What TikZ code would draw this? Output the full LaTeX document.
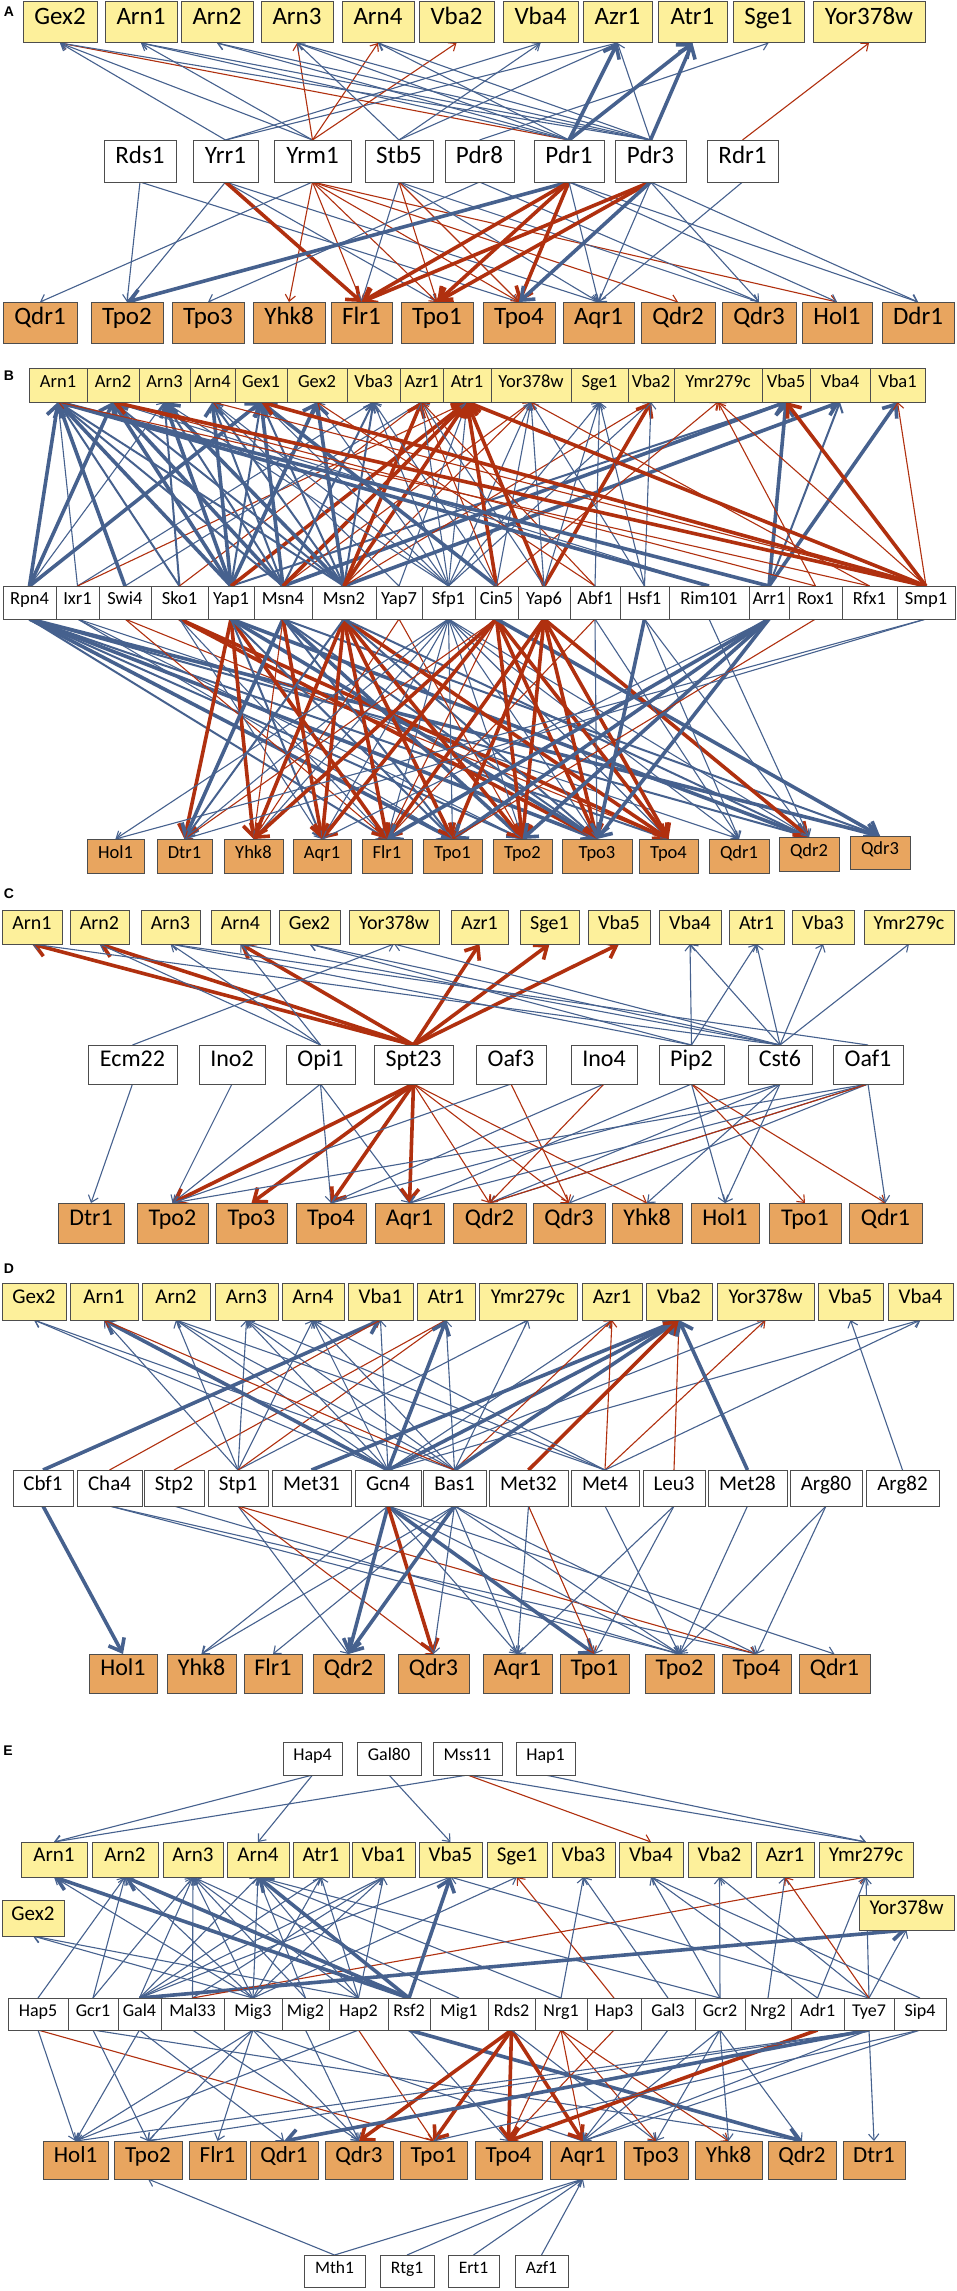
\documentclass[tikz,border=0pt]{standalone}
\usepackage{fontspec}
\setmainfont{Carlito}
\newfontfamily\lblfont{Liberation Sans}
\usetikzlibrary{arrows.meta}
\definecolor{eb}{HTML}{46618E}
\definecolor{er}{HTML}{B0300F}
\definecolor{yl}{HTML}{FDF09B}
\definecolor{og}{HTML}{E8A55F}
\definecolor{bord}{HTML}{4D4D4D}
\pgfdeclarelayer{back}
\pgfdeclarelayer{bg}
\pgfsetlayers{back,bg,main}
\tikzset{
 box/.style={draw=bord, line width=1pt, inner sep=0pt, outer sep=0pt, text height=0.66em, text depth=0.17em},
 yb/.style={box, fill=yl}, ob/.style={box, fill=og}, wb/.style={box, fill=white},
 fs/.style={font=\fontsize{#1}{#1}\selectfont},
 edg/.style={-{Straight Barb[length=4pt 2,width=7pt 3]}},
 bt/.style={edg, draw=eb, line width=1.1pt},
 bm/.style={edg, draw=eb, line width=2pt},
 bk/.style={edg, draw=eb, line width=3.6pt},
 rt/.style={edg, draw=er, line width=1.1pt},
 rm/.style={edg, draw=er, line width=2pt},
 rk/.style={edg, draw=er, line width=3.6pt},
 plbl/.style={font=\lblfont\bfseries\fontsize{14}{14}\selectfont, inner sep=0pt}
}
\newcommand{\bx}[7]{\node[#7, minimum width={(#3-#2)*1pt}, minimum height={(#5-#4)*1pt}] (#1) at ({(#2+#3)/2},{(#4+#5)/2}) {#6};}
\newcommand{\EdUp}[3]{\begin{pgfonlayer}{bg}\foreach \tg in {#3}{\draw[#1] (#2.north) -- (\tg.south);}\end{pgfonlayer}}
\newcommand{\EdDn}[3]{\begin{pgfonlayer}{bg}\foreach \tg in {#3}{\draw[#1] (#2.south) -- (\tg.north);}\end{pgfonlayer}}
\begin{document}
\begin{tikzpicture}[x=1pt,y=-1pt]
\useasboundingbox (0,0) rectangle (956,2291);
\begin{pgfonlayer}{back}\fill[white] (0,0) rectangle (956,2291);\end{pgfonlayer}
% ================= A =================
\node[plbl] (labA) at (9,12) {A};
\bx{aGex2}{23}{97}{2}{43}{Gex2}{yb,fs=25}
\bx{aArn1}{105}{177}{2}{43}{Arn1}{yb,fs=25}
\bx{aArn2}{181}{253}{2}{43}{Arn2}{yb,fs=25}
\bx{aArn3}{261}{333}{2}{43}{Arn3}{yb,fs=25}
\bx{aArn4}{342}{414}{2}{43}{Arn4}{yb,fs=25}
\bx{aVba2}{419}{494}{2}{43}{Vba2}{yb,fs=25}
\bx{aVba4}{503}{578}{2}{43}{Vba4}{yb,fs=25}
\bx{aAzr1}{583}{652}{2}{43}{Azr1}{yb,fs=25}
\bx{aAtr1}{658}{727}{2}{43}{Atr1}{yb,fs=25}
\bx{aSge1}{733}{804}{2}{43}{Sge1}{yb,fs=25}
\bx{aYor}{813}{925}{2}{43}{Yor378w}{yb,fs=25}
\bx{aRds1}{104}{176}{140}{182}{Rds1}{wb,fs=25}
\bx{aYrr1}{193}{258}{140}{182}{Yrr1}{wb,fs=25}
\bx{aYrm1}{274}{351}{140}{182}{Yrm1}{wb,fs=25}
\bx{aStb5}{365}{433}{140}{182}{Stb5}{wb,fs=25}
\bx{aPdr8}{445}{514}{140}{182}{Pdr8}{wb,fs=25}
\bx{aPdr1}{534}{604}{140}{182}{Pdr1}{wb,fs=25}
\bx{aPdr3}{615}{686}{140}{182}{Pdr3}{wb,fs=25}
\bx{aRdr1}{707}{778}{140}{182}{Rdr1}{wb,fs=25}
\bx{aQdr1}{3}{77}{302}{343}{Qdr1}{ob,fs=25}
\bx{aTpo2}{91}{163}{302}{343}{Tpo2}{ob,fs=25}
\bx{aTpo3}{172}{244}{302}{343}{Tpo3}{ob,fs=25}
\bx{aYhk8}{253}{325}{302}{343}{Yhk8}{ob,fs=25}
\bx{aFlr1}{331}{392}{302}{343}{Flr1}{ob,fs=25}
\bx{aTpo1}{401}{473}{302}{343}{Tpo1}{ob,fs=25}
\bx{aTpo4}{483}{555}{302}{343}{Tpo4}{ob,fs=25}
\bx{aAqr1}{563}{634}{302}{343}{Aqr1}{ob,fs=25}
\bx{aQdr2}{641}{715}{302}{343}{Qdr2}{ob,fs=25}
\bx{aQdr3}{722}{796}{302}{343}{Qdr3}{ob,fs=25}
\bx{aHol1}{802}{872}{302}{343}{Hol1}{ob,fs=25}
\bx{aDdr1}{882}{954}{302}{343}{Ddr1}{ob,fs=25}
\EdUp{rt}{aPdr1}{aGex2}
\EdUp{bt}{aYrr1}{aGex2,aVba4,aAzr1}
\EdUp{bt}{aYrm1}{aGex2,aArn1}
\EdUp{rt}{aYrm1}{aArn3,aArn4,aVba2}
\EdUp{bt}{aStb5}{aArn3,aAzr1,aVba4}
\EdUp{bt}{aPdr8}{aSge1}
\EdUp{bt}{aPdr1}{aArn1,aArn2,aArn3,aArn4}
\EdUp{bk}{aPdr1}{aAzr1,aAtr1}
\EdUp{bt}{aPdr3}{aGex2,aArn1,aArn2,aArn3,aArn4,aAzr1}
\EdUp{bk}{aPdr3}{aAtr1}
\EdUp{rt}{aRdr1}{aYor}
\EdDn{bt}{aRds1}{aTpo2,aTpo4}
\EdDn{bt}{aYrr1}{aTpo2,aTpo1,aAqr1}
\EdDn{rk}{aYrr1}{aFlr1}
\EdDn{bt}{aYrm1}{aQdr1}
\EdDn{rt}{aYrm1}{aYhk8,aFlr1,aTpo1,aTpo4,aQdr2,aHol1}
\EdDn{bt}{aStb5}{aFlr1,aAqr1,aQdr3}
\EdDn{rt}{aStb5}{aTpo1,aTpo4}
\EdDn{bt}{aPdr8}{aQdr3,aTpo3}
\EdDn{bk}{aPdr1}{aTpo2}
\EdDn{rk}{aPdr1}{aFlr1,aTpo1,aTpo4}
\EdDn{bt}{aPdr1}{aAqr1,aHol1,aDdr1}
\EdDn{rk}{aPdr3}{aFlr1,aTpo1}
\EdDn{bk}{aPdr3}{aTpo4}
\EdDn{bt}{aPdr3}{aAqr1,aQdr3,aDdr1}
\EdDn{bt}{aRdr1}{aAqr1}
% ================= B =================
\node[plbl] (labB) at (9,376) {B};
\bx{bArn1}{29}{87}{368}{402}{Arn1}{yb,fs=18.5}
\bx{bArn2}{87}{139}{368}{402}{Arn2}{yb,fs=18.5}
\bx{bArn3}{139}{190}{368}{402}{Arn3}{yb,fs=18.5}
\bx{bArn4}{190}{235}{368}{402}{Arn4}{yb,fs=18.5}
\bx{bGex1}{235}{287}{368}{402}{Gex1}{yb,fs=18.5}
\bx{bGex2}{287}{347}{368}{402}{Gex2}{yb,fs=18.5}
\bx{bVba3}{347}{400}{368}{402}{Vba3}{yb,fs=18.5}
\bx{bAzr1}{400}{443}{368}{402}{Azr1}{yb,fs=18.5}
\bx{bAtr1}{443}{491}{368}{402}{Atr1}{yb,fs=18.5}
\bx{bYor}{491}{571}{368}{402}{Yor378w}{yb,fs=18.5}
\bx{bSge1}{571}{628}{368}{402}{Sge1}{yb,fs=18.5}
\bx{bVba2}{628}{674}{368}{402}{Vba2}{yb,fs=18.5}
\bx{bYmr}{674}{762}{368}{402}{Ymr279c}{yb,fs=18.5}
\bx{bVba5}{762}{810}{368}{402}{Vba5}{yb,fs=18.5}
\bx{bVba4}{810}{870}{368}{402}{Vba4}{yb,fs=18.5}
\bx{bVba1}{870}{925}{368}{402}{Vba1}{yb,fs=18.5}
\bx{bRpn4}{3}{56}{586}{619}{Rpn4}{wb,fs=18.5}
\bx{bIxr1}{56}{99}{586}{619}{Ixr1}{wb,fs=18.5}
\bx{bSwi4}{99}{151}{586}{619}{Swi4}{wb,fs=18.5}
\bx{bSko1}{151}{208}{586}{619}{Sko1}{wb,fs=18.5}
\bx{bYap1}{208}{254}{586}{619}{Yap1}{wb,fs=18.5}
\bx{bMsn4}{254}{312}{586}{619}{Msn4}{wb,fs=18.5}
\bx{bMsn2}{312}{376}{586}{619}{Msn2}{wb,fs=18.5}
\bx{bYap7}{376}{422}{586}{619}{Yap7}{wb,fs=18.5}
\bx{bSfp1}{422}{475}{586}{619}{Sfp1}{wb,fs=18.5}
\bx{bCin5}{475}{518}{586}{619}{Cin5}{wb,fs=18.5}
\bx{bYap6}{518}{570}{586}{619}{Yap6}{wb,fs=18.5}
\bx{bAbf1}{570}{620}{586}{619}{Abf1}{wb,fs=18.5}
\bx{bHsf1}{620}{669}{586}{619}{Hsf1}{wb,fs=18.5}
\bx{bRim}{669}{749}{586}{619}{Rim101}{wb,fs=18.5}
\bx{bArr1}{749}{789}{586}{619}{Arr1}{wb,fs=18.5}
\bx{bRox1}{789}{842}{586}{619}{Rox1}{wb,fs=18.5}
\bx{bRfx1}{842}{897}{586}{619}{Rfx1}{wb,fs=18.5}
\bx{bSmp1}{897}{955}{586}{619}{Smp1}{wb,fs=18.5}
\bx{bHol1}{87}{144}{839}{873}{Hol1}{ob,fs=18.5}
\bx{bDtr1}{157}{212}{839}{873}{Dtr1}{ob,fs=18.5}
\bx{bYhk8}{224}{283}{839}{873}{Yhk8}{ob,fs=18.5}
\bx{bAqr1}{293}{351}{839}{873}{Aqr1}{ob,fs=18.5}
\bx{bFlr1}{362}{412}{839}{873}{Flr1}{ob,fs=18.5}
\bx{bTpo1}{423}{482}{839}{873}{Tpo1}{ob,fs=18.5}
\bx{bTpo2}{493}{552}{839}{873}{Tpo2}{ob,fs=18.5}
\bx{bTpo3}{562}{632}{839}{873}{Tpo3}{ob,fs=18.5}
\bx{bTpo4}{639}{698}{839}{873}{Tpo4}{ob,fs=18.5}
\bx{bQdr1}{709}{769}{839}{873}{Qdr1}{ob,fs=18.5}
\bx{bQdr2}{779}{839}{837}{871}{Qdr2}{ob,fs=18.5}
\bx{bQdr3}{850}{910}{836}{869}{Qdr3}{ob,fs=18.5}
\EdUp{bk}{bRpn4}{bArn1,bArn2,bGex1}
\EdUp{bt}{bRpn4}{bArn3}
\EdUp{bt}{bIxr1}{bArn1,bVba3}
\EdUp{rt}{bIxr1}{bAtr1}
\EdUp{bk}{bSwi4}{bArn1}
\EdUp{bt}{bSwi4}{bAzr1}
\EdUp{bm}{bSko1}{bArn1,bArn3}
\EdUp{rt}{bSko1}{bAzr1}
\EdUp{bk}{bYap1}{bArn1,bArn2,bArn3,bArn4,bGex2}
\EdUp{bm}{bYap1}{bGex1,bVba5}
\EdUp{rk}{bYap1}{bAtr1}
\EdUp{bk}{bMsn4}{bArn2,bGex1,bVba5}
\EdUp{bm}{bMsn4}{bArn1,bArn3,bArn4,bVba3}
\EdUp{rk}{bMsn4}{bAtr1}
\EdUp{rt}{bMsn4}{bYor}
\EdUp{bk}{bMsn2}{bArn3,bGex2,bVba4}
\EdUp{bm}{bMsn2}{bArn1,bArn2,bArn4,bGex1,bVba3}
\EdUp{rk}{bMsn2}{bAzr1,bAtr1}
\EdUp{rt}{bMsn2}{bYor,bVba2}
\EdUp{bt}{bYap7}{bArn4,bAtr1}
\EdUp{bt}{bSfp1}{bArn3,bArn4,bGex1,bGex2,bVba3,bAzr1,bAtr1,bYor,bSge1,bVba2}
\EdUp{bk}{bCin5}{bGex1}
\EdUp{rk}{bCin5}{bAtr1}
\EdUp{rt}{bCin5}{bAzr1,bYmr}
\EdUp{bt}{bCin5}{bVba3,bYor}
\EdUp{rk}{bYap6}{bAtr1,bVba2}
\EdUp{bt}{bYap6}{bAzr1,bYor,bSge1}
\EdUp{rt}{bAbf1}{bAzr1,bGex2}
\EdUp{bt}{bAbf1}{bSge1}
\EdUp{bt}{bHsf1}{bYor,bSge1,bVba2}
\EdUp{bk}{bRim}{bArn1}
\EdUp{bt}{bRim}{bArn2}
\EdUp{bk}{bArr1}{bArn1,bVba5,bVba1}
\EdUp{bm}{bArr1}{bVba4}
\EdUp{rt}{bRox1}{bArn2,bYmr}
\EdUp{rt}{bRfx1}{bArn1,bYor}
\EdUp{rk}{bSmp1}{bArn2,bGex1,bAtr1,bVba5}
\EdUp{rt}{bSmp1}{bArn4,bVba1,bYmr}
\EdDn{bk}{bRpn4}{bTpo1,bTpo3,bQdr3}
\EdDn{bm}{bRpn4}{bFlr1,bTpo2,bTpo4,bQdr2}
\EdDn{bt}{bIxr1}{bTpo1,bTpo2,bQdr1}
\EdDn{rt}{bSwi4}{bFlr1,bTpo4}
\EdDn{rk}{bSko1}{bTpo3,bTpo4}
\EdDn{bt}{bSko1}{bAqr1,bFlr1}
\EdDn{rk}{bYap1}{bDtr1,bYhk8,bFlr1}
\EdDn{bk}{bYap1}{bTpo3,bQdr2}
\EdDn{bm}{bYap1}{bAqr1,bTpo1}
\EdDn{bk}{bMsn4}{bDtr1,bTpo2}
\EdDn{rk}{bMsn4}{bAqr1}
\EdDn{rt}{bMsn4}{bYhk8}
\EdDn{bm}{bMsn4}{bTpo1,bTpo3,bQdr3}
\EdDn{rk}{bMsn2}{bYhk8,bAqr1,bFlr1,bTpo1,bTpo2,bTpo4}
\EdDn{bm}{bMsn2}{bDtr1,bTpo3,bQdr2}
\EdDn{rt}{bYap7}{bYhk8,bTpo2}
\EdDn{bt}{bSfp1}{bHol1,bDtr1,bYhk8,bAqr1,bFlr1,bTpo1,bTpo2,bTpo3,bTpo4,bQdr1,bQdr2}
\EdDn{rk}{bCin5}{bYhk8,bAqr1,bTpo2,bTpo3,bTpo4}
\EdDn{rt}{bCin5}{bDtr1,bFlr1}
\EdDn{bk}{bCin5}{bQdr3}
\EdDn{rk}{bYap6}{bFlr1,bTpo1,bTpo2,bTpo3,bTpo4,bQdr2}
\EdDn{bt}{bAbf1}{bTpo3,bQdr1}
\EdDn{rt}{bAbf1}{bFlr1}
\EdDn{bk}{bHsf1}{bTpo3}
\EdDn{bt}{bHsf1}{bQdr2,bQdr1}
\EdDn{bt}{bRim}{bQdr2}
\EdDn{bk}{bArr1}{bTpo3,bTpo2,bTpo1,bFlr1}
\EdDn{bt}{bArr1}{bAqr1}
\EdDn{rt}{bRox1}{bTpo1}
\EdDn{bt}{bSmp1}{bDtr1,bHol1}
% ================= C =================
\node[plbl] (labC) at (9,894) {C};
\bx{cArn1}{2}{62}{910}{944}{Arn1}{yb,fs=20}
\bx{cArn2}{70}{129}{910}{944}{Arn2}{yb,fs=20}
\bx{cArn3}{141}{200}{910}{944}{Arn3}{yb,fs=20}
\bx{cArn4}{211}{270}{910}{944}{Arn4}{yb,fs=20}
\bx{cGex2}{279}{340}{910}{944}{Gex2}{yb,fs=20}
\bx{cYor}{349}{439}{910}{944}{Yor378w}{yb,fs=20}
\bx{cAzr1}{451}{508}{910}{944}{Azr1}{yb,fs=20}
\bx{cSge1}{520}{579}{910}{944}{Sge1}{yb,fs=20}
\bx{cVba5}{588}{650}{910}{944}{Vba5}{yb,fs=20}
\bx{cVba4}{659}{721}{910}{944}{Vba4}{yb,fs=20}
\bx{cAtr1}{729}{784}{910}{944}{Atr1}{yb,fs=20}
\bx{cVba3}{792}{854}{910}{944}{Vba3}{yb,fs=20}
\bx{cYmr}{864}{954}{910}{944}{Ymr279c}{yb,fs=20}
\bx{cEcm}{88}{177}{1045}{1084}{Ecm22}{wb,fs=24}
\bx{cIno2}{199}{265}{1045}{1084}{Ino2}{wb,fs=24}
\bx{cOpi1}{286}{355}{1045}{1084}{Opi1}{wb,fs=24}
\bx{cSpt}{374}{453}{1045}{1084}{Spt23}{wb,fs=24}
\bx{cOaf3}{476}{546}{1045}{1084}{Oaf3}{wb,fs=24}
\bx{cIno4}{571}{637}{1045}{1084}{Ino4}{wb,fs=24}
\bx{cPip2}{659}{724}{1045}{1084}{Pip2}{wb,fs=24}
\bx{cCst6}{748}{812}{1045}{1084}{Cst6}{wb,fs=24}
\bx{cOaf1}{833}{903}{1045}{1084}{Oaf1}{wb,fs=24}
\bx{cDtr1}{58}{124}{1203}{1243}{Dtr1}{ob,fs=24}
\bx{cTpo2}{137}{208}{1203}{1243}{Tpo2}{ob,fs=24}
\bx{cTpo3}{216}{287}{1203}{1243}{Tpo3}{ob,fs=24}
\bx{cTpo4}{296}{366}{1203}{1243}{Tpo4}{ob,fs=24}
\bx{cAqr1}{375}{444}{1203}{1243}{Aqr1}{ob,fs=24}
\bx{cQdr2}{453}{526}{1203}{1243}{Qdr2}{ob,fs=24}
\bx{cQdr3}{533}{605}{1203}{1243}{Qdr3}{ob,fs=24}
\bx{cYhk8}{612}{682}{1203}{1243}{Yhk8}{ob,fs=24}
\bx{cHol1}{691}{759}{1203}{1243}{Hol1}{ob,fs=24}
\bx{cTpo1}{769}{841}{1203}{1243}{Tpo1}{ob,fs=24}
\bx{cQdr1}{849}{922}{1203}{1243}{Qdr1}{ob,fs=24}
\EdUp{rk}{cSpt}{cArn1,cArn2,cArn4,cAzr1,cSge1,cVba5}
\EdUp{bt}{cOpi1}{cArn2,cArn3,cArn4}
\EdUp{bt}{cEcm}{cYor}
\EdUp{bt}{cPip2}{cVba4,cAtr1,cArn3,cGex2}
\EdUp{bt}{cCst6}{cArn1,cArn4,cGex2,cYor,cVba4,cAtr1,cVba3,cYmr}
\EdUp{bt}{cOaf1}{cArn3}
\EdDn{bt}{cEcm}{cDtr1}
\EdDn{bt}{cIno2}{cTpo2}
\EdDn{bt}{cOpi1}{cTpo2,cTpo4,cAqr1}
\EdDn{rk}{cSpt}{cTpo2,cTpo3,cTpo4,cAqr1}
\EdDn{rt}{cSpt}{cQdr2,cQdr3,cYhk8}
\EdDn{bt}{cOaf3}{cTpo2}
\EdDn{rt}{cOaf3}{cQdr3}
\EdDn{bt}{cIno4}{cTpo4}
\EdDn{rt}{cIno4}{cQdr2}
\EdDn{rt}{cPip2}{cTpo1,cQdr1}
\EdDn{bt}{cPip2}{cHol1,cAqr1}
\EdDn{bt}{cCst6}{cQdr2,cHol1,cYhk8,cTpo4}
\EdDn{bt}{cOaf1}{cQdr1,cQdr2,cTpo2,cAqr1,cQdr3}
\EdDn{rt}{cOaf1}{cQdr2}
% ================= D =================
\node[plbl] (labD) at (9,1269) {D};
\bx{dGex2}{2}{66}{1283}{1320}{Gex2}{yb,fs=21}
\bx{dArn1}{70}{138}{1283}{1320}{Arn1}{yb,fs=21}
\bx{dArn2}{142}{210}{1283}{1320}{Arn2}{yb,fs=21}
\bx{dArn3}{215}{278}{1283}{1320}{Arn3}{yb,fs=21}
\bx{dArn4}{282}{344}{1283}{1320}{Arn4}{yb,fs=21}
\bx{dVba1}{348}{413}{1283}{1320}{Vba1}{yb,fs=21}
\bx{dAtr1}{417}{475}{1283}{1320}{Atr1}{yb,fs=21}
\bx{dYmr}{479}{577}{1283}{1320}{Ymr279c}{yb,fs=21}
\bx{dAzr1}{582}{642}{1283}{1320}{Azr1}{yb,fs=21}
\bx{dVba2}{646}{712}{1283}{1320}{Vba2}{yb,fs=21}
\bx{dYor}{717}{814}{1283}{1320}{Yor378w}{yb,fs=21}
\bx{dVba5}{818}{883}{1283}{1320}{Vba5}{yb,fs=21}
\bx{dVba4}{888}{953}{1283}{1320}{Vba4}{yb,fs=21}
\bx{dCbf1}{13}{73}{1470}{1506}{Cbf1}{wb,fs=21}
\bx{dCha4}{77}{142}{1470}{1506}{Cha4}{wb,fs=21}
\bx{dStp2}{144}{204}{1470}{1506}{Stp2}{wb,fs=21}
\bx{dStp1}{208}{268}{1470}{1506}{Stp1}{wb,fs=21}
\bx{dMet31}{272}{351}{1470}{1506}{Met31}{wb,fs=21}
\bx{dGcn4}{355}{421}{1470}{1506}{Gcn4}{wb,fs=21}
\bx{dBas1}{423}{486}{1470}{1506}{Bas1}{wb,fs=21}
\bx{dMet32}{489}{568}{1470}{1506}{Met32}{wb,fs=21}
\bx{dMet4}{571}{639}{1470}{1506}{Met4}{wb,fs=21}
\bx{dLeu3}{643}{705}{1470}{1506}{Leu3}{wb,fs=21}
\bx{dMet28}{708}{787}{1470}{1506}{Met28}{wb,fs=21}
\bx{dArg80}{790}{862}{1470}{1506}{Arg80}{wb,fs=21}
\bx{dArg82}{866}{939}{1470}{1506}{Arg82}{wb,fs=21}
\bx{dHol1}{89}{157}{1654}{1693}{Hol1}{ob,fs=24}
\bx{dYhk8}{167}{236}{1654}{1693}{Yhk8}{ob,fs=24}
\bx{dFlr1}{244}{302}{1654}{1693}{Flr1}{ob,fs=24}
\bx{dQdr2}{313}{384}{1654}{1693}{Qdr2}{ob,fs=24}
\bx{dQdr3}{398}{469}{1654}{1693}{Qdr3}{ob,fs=24}
\bx{dAqr1}{483}{552}{1654}{1693}{Aqr1}{ob,fs=24}
\bx{dTpo1}{560}{629}{1654}{1693}{Tpo1}{ob,fs=24}
\bx{dTpo2}{645}{714}{1654}{1693}{Tpo2}{ob,fs=24}
\bx{dTpo4}{722}{791}{1654}{1693}{Tpo4}{ob,fs=24}
\bx{dQdr1}{799}{870}{1654}{1693}{Qdr1}{ob,fs=24}
\EdUp{bk}{dCbf1}{dVba1}
\EdUp{rt}{dCha4}{dVba1}
\EdUp{rt}{dStp2}{dAtr1}
\EdUp{bt}{dStp1}{dArn1,dArn2,dArn3,dArn4,dYmr}
\EdUp{rt}{dStp1}{dAtr1}
\EdUp{bk}{dMet31}{dVba2}
\EdUp{bk}{dGcn4}{dArn1,dAtr1,dVba2}
\EdUp{bt}{dGcn4}{dArn2,dArn3,dArn4,dVba1,dGex2,dAzr1,dVba4,dYor}
\EdUp{bt}{dBas1}{dGex2,dArn2,dArn3,dArn4,dAtr1,dYmr}
\EdUp{rt}{dBas1}{dArn1,dAzr1}
\EdUp{bk}{dBas1}{dVba2}
\EdUp{rk}{dMet32}{dVba2}
\EdUp{rt}{dMet4}{dAzr1,dYor}
\EdUp{bt}{dMet4}{dArn2,dArn3,dArn4,dVba4}
\EdUp{rt}{dLeu3}{dVba2}
\EdUp{bk}{dMet28}{dVba2}
\EdUp{bt}{dArg82}{dVba5}
\EdDn{bk}{dCbf1}{dHol1}
\EdDn{bt}{dCha4}{dTpo2,dTpo4}
\EdDn{bt}{dStp2}{dTpo2}
\EdDn{bt}{dStp1}{dQdr2}
\EdDn{rt}{dStp1}{dQdr3,dTpo4}
\EdDn{bt}{dGcn4}{dYhk8,dAqr1,dTpo2,dQdr1}
\EdDn{bk}{dGcn4}{dQdr2,dTpo1}
\EdDn{rk}{dGcn4}{dQdr3}
\EdDn{bk}{dBas1}{dQdr2}
\EdDn{bt}{dBas1}{dFlr1,dYhk8,dQdr3,dAqr1,dTpo2,dTpo4}
\EdDn{rt}{dMet32}{dTpo1}
\EdDn{bt}{dMet32}{dAqr1}
\EdDn{bt}{dMet4}{dTpo2}
\EdDn{bt}{dLeu3}{dTpo1,dAqr1}
\EdDn{bt}{dMet28}{dTpo2}
\EdDn{bt}{dArg80}{dTpo2,dTpo4}
% ================= E =================
\node[plbl] (labE) at (8,1751) {E};
\bx{eHap4}{283}{342}{1742}{1775}{Hap4}{wb,fs=18}
\bx{eGal80}{357}{421}{1742}{1775}{Gal80}{wb,fs=18}
\bx{eMss11}{433}{502}{1742}{1775}{Mss11}{wb,fs=18}
\bx{eHap1}{516}{575}{1742}{1775}{Hap1}{wb,fs=18}
\bx{eArn1}{21}{87}{1842}{1877}{Arn1}{yb,fs=21}
\bx{eArn2}{92}{158}{1842}{1877}{Arn2}{yb,fs=21}
\bx{eArn3}{163}{223}{1842}{1877}{Arn3}{yb,fs=21}
\bx{eArn4}{227}{289}{1842}{1877}{Arn4}{yb,fs=21}
\bx{eAtr1}{293}{349}{1842}{1877}{Atr1}{yb,fs=21}
\bx{eVba1}{352}{415}{1842}{1877}{Vba1}{yb,fs=21}
\bx{eVba5}{419}{482}{1842}{1877}{Vba5}{yb,fs=21}
\bx{eSge1}{487}{547}{1842}{1877}{Sge1}{yb,fs=21}
\bx{eVba3}{552}{615}{1842}{1877}{Vba3}{yb,fs=21}
\bx{eVba4}{619}{683}{1842}{1877}{Vba4}{yb,fs=21}
\bx{eVba2}{688}{751}{1842}{1877}{Vba2}{yb,fs=21}
\bx{eAzr1}{756}{814}{1842}{1877}{Azr1}{yb,fs=21}
\bx{eYmr}{819}{913}{1842}{1877}{Ymr279c}{yb,fs=21}
\bx{eGex2}{2}{64}{1900}{1936}{Gex2}{yb,fs=21}
\bx{eYor}{859}{954}{1895}{1930}{Yor378w}{yb,fs=21}
\bx{eHap5}{8}{68}{1998}{2030}{Hap5}{wb,fs=18}
\bx{eGcr1}{68}{118}{1998}{2030}{Gcr1}{wb,fs=18}
\bx{eGal4}{118}{161}{1998}{2030}{Gal4}{wb,fs=18}
\bx{eMal33}{161}{224}{1998}{2030}{Mal33}{wb,fs=18}
\bx{eMig3}{224}{282}{1998}{2030}{Mig3}{wb,fs=18}
\bx{eMig2}{282}{329}{1998}{2030}{Mig2}{wb,fs=18}
\bx{eHap2}{329}{388}{1998}{2030}{Hap2}{wb,fs=18}
\bx{eRsf2}{388}{430}{1998}{2030}{Rsf2}{wb,fs=18}
\bx{eMig1}{430}{488}{1998}{2030}{Mig1}{wb,fs=18}
\bx{eRds2}{488}{535}{1998}{2030}{Rds2}{wb,fs=18}
\bx{eNrg1}{535}{587}{1998}{2030}{Nrg1}{wb,fs=18}
\bx{eHap3}{587}{641}{1998}{2030}{Hap3}{wb,fs=18}
\bx{eGal3}{641}{695}{1998}{2030}{Gal3}{wb,fs=18}
\bx{eGcr2}{695}{745}{1998}{2030}{Gcr2}{wb,fs=18}
\bx{eNrg2}{745}{791}{1998}{2030}{Nrg2}{wb,fs=18}
\bx{eAdr1}{791}{844}{1998}{2030}{Adr1}{wb,fs=18}
\bx{eTye7}{844}{894}{1998}{2030}{Tye7}{wb,fs=18}
\bx{eSip4}{894}{946}{1998}{2030}{Sip4}{wb,fs=18}
\bx{eHol1}{43}{108}{2141}{2179}{Hol1}{ob,fs=23}
\bx{eTpo2}{114}{182}{2141}{2179}{Tpo2}{ob,fs=23}
\bx{eFlr1}{189}{246}{2141}{2179}{Flr1}{ob,fs=23}
\bx{eQdr1}{250}{318}{2141}{2179}{Qdr1}{ob,fs=23}
\bx{eQdr3}{325}{393}{2141}{2179}{Qdr3}{ob,fs=23}
\bx{eTpo1}{400}{467}{2141}{2179}{Tpo1}{ob,fs=23}
\bx{eTpo4}{475}{542}{2141}{2179}{Tpo4}{ob,fs=23}
\bx{eAqr1}{550}{616}{2141}{2179}{Aqr1}{ob,fs=23}
\bx{eTpo3}{624}{688}{2141}{2179}{Tpo3}{ob,fs=23}
\bx{eYhk8}{695}{762}{2141}{2179}{Yhk8}{ob,fs=23}
\bx{eQdr2}{768}{836}{2141}{2179}{Qdr2}{ob,fs=23}
\bx{eDtr1}{843}{905}{2141}{2179}{Dtr1}{ob,fs=23}
\bx{eMth1}{304}{365}{2255}{2287}{Mth1}{wb,fs=17.5}
\bx{eRtg1}{380}{434}{2255}{2287}{Rtg1}{wb,fs=17.5}
\bx{eErt1}{448}{499}{2255}{2287}{Ert1}{wb,fs=17.5}
\bx{eAzf1}{515}{568}{2255}{2287}{Azf1}{wb,fs=17.5}
\EdDn{bt}{eHap4}{eArn1,eArn4}
\EdDn{bt}{eGal80}{eVba5}
\EdDn{bt}{eMss11}{eArn1,eYmr}
\EdDn{rt}{eMss11}{eVba4}
\EdDn{bt}{eHap1}{eYmr}
\EdUp{bt}{eHap5}{eArn2}
\EdUp{bt}{eGcr1}{eArn2,eArn3}
\EdUp{bt}{eGal4}{eArn4,eVba1,eArn3,eAtr1,eVba5}
\EdUp{bk}{eGal4}{eYor}
\EdUp{bt}{eMal33}{eArn3,eVba1}
\EdUp{rt}{eMal33}{eYmr}
\EdUp{bt}{eMig3}{eArn1,eArn2,eArn3,eArn4,eAtr1,eVba1,eGex2,eSge1}
\EdUp{bt}{eMig2}{eArn3,eArn4}
\EdUp{bt}{eHap2}{eArn3,eArn4,eAtr1,eVba1,eGex2}
\EdUp{bk}{eRsf2}{eArn1,eArn2,eArn4,eVba5}
\EdUp{bt}{eMig1}{eArn3}
\EdUp{rt}{eHap3}{eSge1}
\EdUp{bt}{eNrg1}{eArn4,eVba3}
\EdUp{bt}{eGal3}{eVba3}
\EdUp{bt}{eGcr2}{eVba4,eVba2,eArn4}
\EdUp{bt}{eNrg2}{eAzr1}
\EdUp{bt}{eAdr1}{eYmr,eVba4}
\EdUp{bt}{eTye7}{eYor,eYmr,eVba2,eVba5}
\EdUp{rt}{eTye7}{eAzr1}
\EdUp{bt}{eSip4}{eVba4}
\EdDn{bt}{eHap5}{eHol1}
\EdDn{rt}{eHap5}{eTpo1}
\EdDn{bt}{eGcr1}{eTpo2,eQdr2}
\EdDn{bt}{eGal4}{eHol1,eQdr1}
\EdDn{bt}{eMal33}{eQdr3}
\EdDn{bt}{eMig3}{eTpo2,eFlr1,eHol1,eQdr3,eAqr1}
\EdDn{bt}{eMig2}{eQdr3}
\EdDn{rt}{eHap2}{eTpo1}
\EdDn{bt}{eHap2}{eHol1}
\EdDn{bk}{eRsf2}{eQdr2}
\EdDn{bt}{eRsf2}{eTpo4}
\EdDn{rk}{eRds2}{eQdr3,eTpo1,eTpo4,eAqr1}
\EdDn{bt}{eRds2}{eTpo3}
\EdDn{rt}{eNrg1}{eTpo4,eAqr1,eTpo3,eYhk8}
\EdDn{rt}{eHap3}{eTpo4}
\EdDn{bt}{eGal3}{eAqr1}
\EdDn{bt}{eGcr2}{eAqr1,eTpo3,eYhk8,eQdr2}
\EdDn{rk}{eAdr1}{eTpo4}
\EdDn{bk}{eTye7}{eQdr1}
\EdDn{bt}{eTye7}{eDtr1,eAqr1,eHol1,eTpo2}
\EdDn{bt}{eSip4}{eTpo1,eAqr1}
\EdUp{bt}{eMth1}{eTpo2,eAqr1}
\EdUp{bt}{eRtg1}{eAqr1}
\EdUp{bt}{eErt1}{eAqr1}
\EdUp{bt}{eAzf1}{eAqr1}
\end{tikzpicture}
\end{document}
